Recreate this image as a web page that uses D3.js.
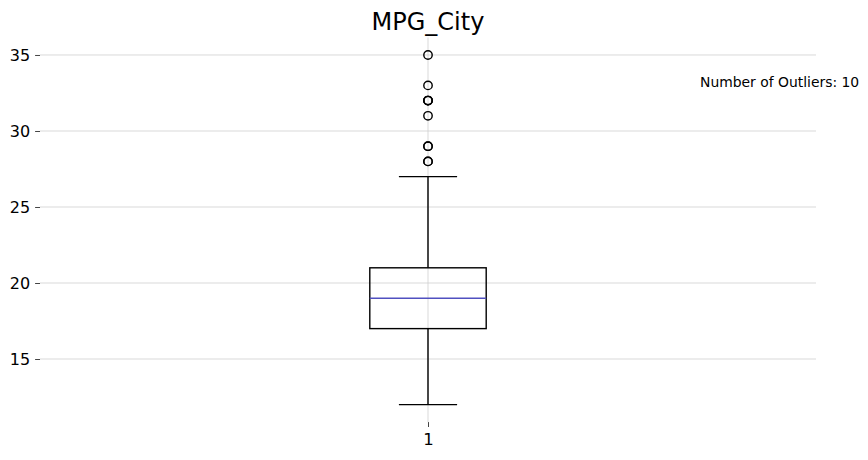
<!DOCTYPE html>
<html><head><meta charset="utf-8">
<script src="https://cdn.jsdelivr.net/npm/d3@7"></script>
<style>body{margin:0;background:#fff}svg{display:block;font-family:"DejaVu Sans",sans-serif}</style>
</head><body><svg id="c" width="868" height="460"></svg>
<script>
const title = "MPG_City";
const categories = ["1"];
const boxStats = [{q1: 17, median: 19, q3: 21, whiskerLow: 12, whiskerHigh: 27}];
const outliers = [28, 28, 29, 29, 31, 32, 32, 32, 33, 35];
const yTicks = [15, 20, 25, 30, 35];
const annotation = "Number of Outliers: " + outliers.length;

const svg = d3.select("#c");
const L = 40, R = 816, T = 37.5, B = 422.1;
const y = d3.scaleLinear().domain([10.85, 36.15]).range([B, T]);
const x = d3.scaleLinear().domain([0.5, 1.5]).range([L, R]);
const boxW = 0.15;

// grid
svg.append("g").selectAll("line").data(yTicks).join("line")
  .attr("x1", L).attr("x2", R).attr("y1", d => y(d)).attr("y2", d => y(d))
  .attr("stroke", "#cfcfcf").attr("stroke-width", 0.8);
svg.append("line").attr("x1", x(1)).attr("x2", x(1)).attr("y1", T).attr("y2", B)
  .attr("stroke", "#cfcfcf").attr("stroke-width", 0.8);

// axes
const yAxis = d3.axisLeft(y).tickValues(yTicks).tickSize(4.9).tickPadding(4.9).tickFormat(d3.format("d"));
const gy = svg.append("g").attr("transform", `translate(${L},0)`).call(yAxis);
gy.select(".domain").remove();
gy.selectAll("line").attr("stroke", "#444");
gy.selectAll("text").attr("font-size", "16px").attr("fill", "#000").attr("font-family", "DejaVu Sans");

const xAxis = d3.axisBottom(x).tickValues([1]).tickSize(4.9).tickPadding(6.5).tickFormat((d, i) => categories[i]);
const gx = svg.append("g").attr("transform", `translate(0,${B})`).call(xAxis);
gx.select(".domain").remove();
gx.selectAll("line").attr("stroke", "#444");
gx.selectAll("text").attr("font-size", "16.5px").attr("fill", "#000").attr("font-family", "DejaVu Sans");

// box
boxStats.forEach((s, i) => {
  const cx = x(i + 1);
  const hw = x(1 + boxW / 2) - x(1);
  const g = svg.append("g");
  const st = (sel) => sel.attr("stroke", "#000").attr("stroke-width", 1.4);
  st(g.append("line").attr("x1", cx).attr("x2", cx).attr("y1", y(s.q1)).attr("y2", y(s.whiskerLow)));
  st(g.append("line").attr("x1", cx).attr("x2", cx).attr("y1", y(s.q3)).attr("y2", y(s.whiskerHigh)));
  st(g.append("line").attr("x1", cx - hw / 2).attr("x2", cx + hw / 2).attr("y1", y(s.whiskerLow)).attr("y2", y(s.whiskerLow)));
  st(g.append("line").attr("x1", cx - hw / 2).attr("x2", cx + hw / 2).attr("y1", y(s.whiskerHigh)).attr("y2", y(s.whiskerHigh)));
  st(g.append("rect").attr("x", cx - hw).attr("width", 2 * hw).attr("y", y(s.q3)).attr("height", y(s.q1) - y(s.q3)).attr("fill", "none"));
  g.append("line").attr("x1", cx - hw).attr("x2", cx + hw).attr("y1", y(s.median)).attr("y2", y(s.median)).attr("stroke", "#5050c0").attr("stroke-width", 1.4);
  g.selectAll("circle").data(outliers).join("circle")
    .attr("cx", cx).attr("cy", d => y(d)).attr("r", 4.2)
    .attr("fill", "none").attr("stroke", "#000").attr("stroke-width", 1.4);
});

svg.append("text").attr("x", x(1)).attr("y", 30).attr("text-anchor", "middle")
  .attr("font-size", "24px").attr("fill", "#000").text(title);
svg.append("text").attr("x", 700).attr("y", 87).attr("font-size", "13.9px").attr("fill", "#000").text(annotation);
</script></body></html>
